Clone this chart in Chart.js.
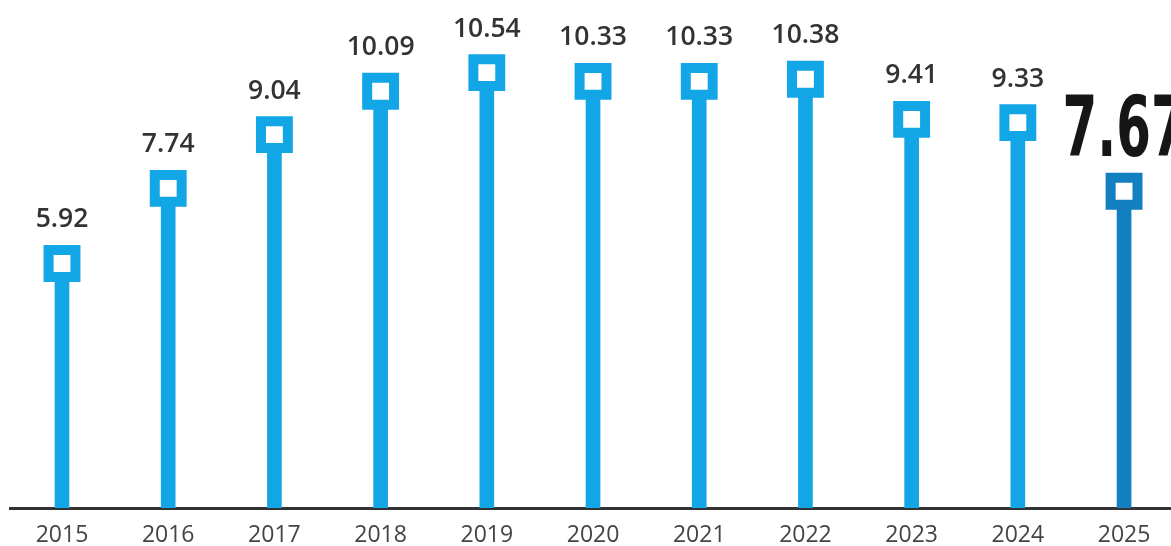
<!DOCTYPE html>
<html>
<head>
<meta charset="utf-8">
<script src="https://cdn.jsdelivr.net/npm/chart.js@4"></script>
<style>
html,body{margin:0;padding:0;background:#fff;overflow:hidden;}
#wrap{width:1171px;height:546px;position:relative;}
</style>
</head>
<body>
<div id="wrap"><canvas id="c" width="1171" height="546"></canvas></div>
<script>
const years = ['2015','2016','2017','2018','2019','2020','2021','2022','2023','2024','2025'];
const values = [5.92, 7.74, 9.04, 10.09, 10.54, 10.33, 10.33, 10.38, 9.41, 9.33, 7.67];
const highlightIndex = 10;

const light = '#13a6e6';
const dark = '#127fc0';
const colors = values.map((v, i) => i === highlightIndex ? dark : light);
const pts = values.map((v, i) => ({x: i, y: v}));

const labelPlugin = {
  id: 'valueLabels',
  afterDatasetsDraw(chart) {
    const ctx = chart.ctx;
    const meta = chart.getDatasetMeta(1);
    ctx.save();
    meta.data.forEach((el, i) => {
      const txt = values[i].toFixed(2);
      ctx.textAlign = 'center';
      ctx.textBaseline = 'alphabetic';
      if (i === highlightIndex) {
        ctx.save();
        ctx.translate(el.x, el.y - 35);
        ctx.scale(0.66, 1);
        ctx.fillStyle = '#161616';
        ctx.font = 'bold 84px "Liberation Sans Narrow", "DejaVu Sans Condensed", sans-serif';
        ctx.fillText(txt, 0, 0);
        ctx.restore();
      } else {
        ctx.fillStyle = '#333333';
        ctx.font = '600 26.5px "Open Sans", sans-serif';
        ctx.fillText(txt, el.x, el.y - 36);
      }
    });
    ctx.restore();
  }
};

new Chart(document.getElementById('c'), {
  data: {
    datasets: [
      {
        type: 'bar',
        data: pts,
        backgroundColor: colors,
        barThickness: 14,
        borderWidth: 0,
        order: 2
      },
      {
        type: 'line',
        data: pts,
        showLine: false,
        pointStyle: 'rect',
        pointRadius: 19,
        pointBorderWidth: 10,
        pointBackgroundColor: '#ffffff',
        pointBorderColor: colors,
        order: 1
      }
    ]
  },
  options: {
    responsive: false,
    animation: false,
    events: [],
    layout: {autoPadding: false, padding: {left: 10, right: 0, top: 0, bottom: 0}},
    plugins: {legend: {display: false}, tooltip: {enabled: false}},
    scales: {
      x: {
        type: 'linear',
        bounds: 'data',
        offset: false,
        min: -0.4896,
        max: 10.442,
        grid: {display: false, drawTicks: false},
        border: {display: true, color: '#333333', width: 3},
        afterBuildTicks(s) { s.ticks = years.map((y, i) => ({value: i})); },
        afterFit(s) { s.height = 38; s.paddingLeft = 0; s.paddingRight = 0; },
        ticks: {
          autoSkip: false,
          maxRotation: 0,
          padding: 14,
          color: '#444444',
          font: {family: '"Open Sans", sans-serif', size: 23},
          callback: (v, i) => years[i]
        }
      },
      y: {
        display: false,
        min: 0,
        max: 12.3
      }
    }
  },
  plugins: [labelPlugin]
});
</script>
</body>
</html>
